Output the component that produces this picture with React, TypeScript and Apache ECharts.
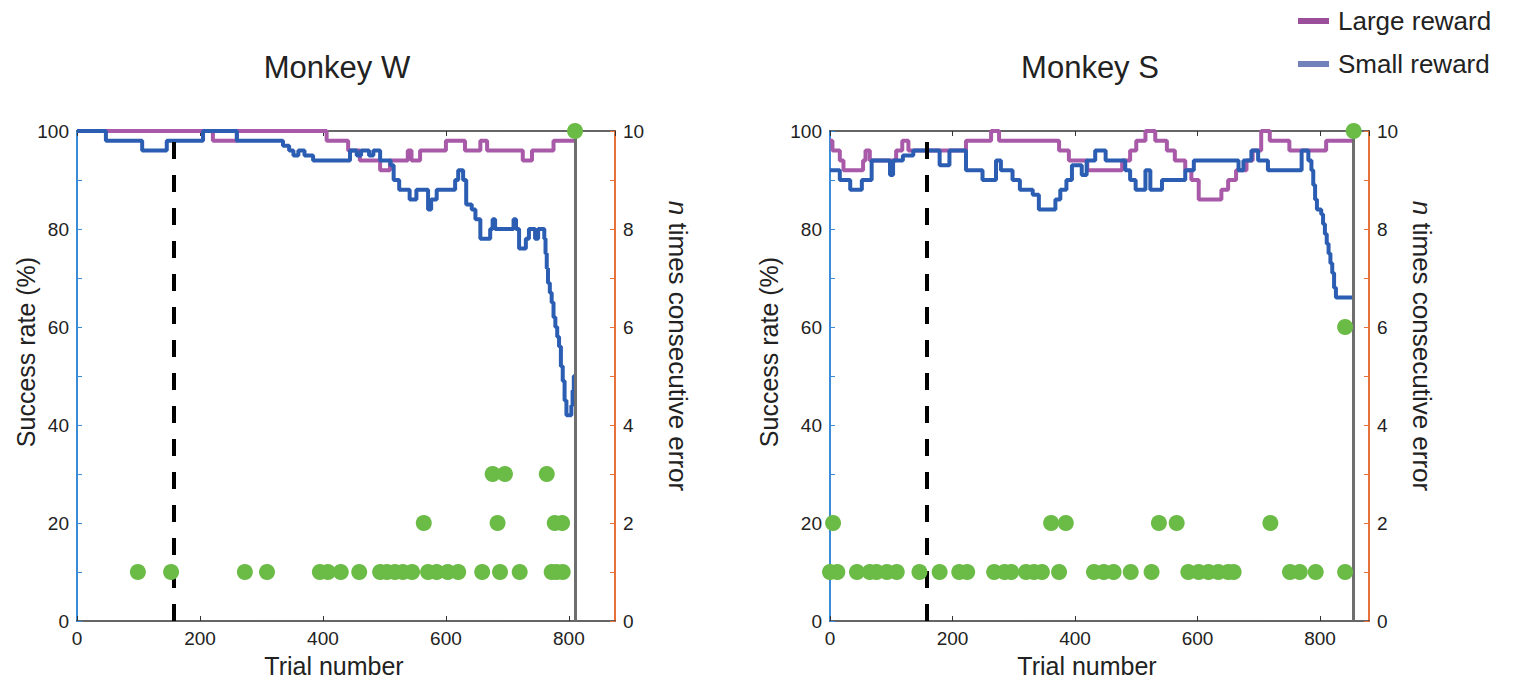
import React, { useEffect, useRef } from "react";
import * as echarts from "echarts";

// ---------- data ----------
const PANEL_TITLES = ["Monkey W", "Monkey S"];
const X_TICKS_INTERVAL = 200;
const X_MAX = [875, 880];
const TASK_SWITCH = [158, 158]; // dashed line (trial number)
const SESSION_END = [810, 855]; // gray line (trial number)

// success rate, Monkey W (trial, %)
const W_LARGE: [number, number][] = [
  [0, 100], [221, 98], [260, 100], [406, 98], [441, 96], [460, 94], [493, 92], [509, 94],
  [538, 96], [544, 94], [558, 96], [600, 98], [631, 96], [656, 98], [667, 96], [725, 94],
  [740, 96], [775, 98], [810, 98],
];
const W_SMALL: [number, number][] = [
  [0, 100], [47, 98], [106, 96], [146, 98], [205, 100], [260, 98], [335, 97], [345, 96],
  [352, 95], [360, 96], [370, 95], [384, 94], [444, 96], [455, 95], [462, 96], [475, 95],
  [482, 96], [493, 94], [510, 93], [515, 90], [524, 88], [541, 86], [552, 88], [571, 84],
  [576, 86], [585, 88], [615, 90], [620, 92], [628, 90], [633, 85], [642, 84], [648, 82],
  [656, 78], [672, 80], [676, 82], [680, 80], [710, 82], [714, 80], [719, 76], [730, 78],
  [735, 80], [745, 78], [750, 80], [760, 78], [762, 75], [764, 72], [766, 69], [769, 67],
  [772, 65], [775, 62], [778, 60], [781, 58], [784, 56], [787, 52], [790, 49], [793, 45],
  [796, 42], [804, 44], [806, 47], [808, 50], [810, 50],
];

// success rate, Monkey S (trial, %)
const S_LARGE: [number, number][] = [
  [0, 98], [4, 96], [16, 94], [22, 92], [54, 94], [58, 96], [65, 94], [108, 96], [118, 98],
  [128, 96], [222, 98], [263, 100], [276, 98], [374, 96], [390, 94], [420, 92], [477, 94],
  [490, 96], [500, 98], [515, 100], [531, 98], [550, 96], [563, 94], [580, 92], [590, 90],
  [602, 86], [639, 88], [650, 90], [663, 92], [680, 94], [690, 96], [704, 100], [718, 98],
  [750, 96], [810, 98], [855, 98],
];
const S_SMALL: [number, number][] = [
  [0, 92], [16, 90], [33, 88], [52, 90], [68, 94], [98, 91], [103, 94], [119, 95], [136, 96],
  [179, 93], [195, 96], [222, 92], [249, 90], [271, 94], [279, 92], [298, 90], [310, 88],
  [331, 87], [341, 84], [368, 86], [376, 88], [386, 90], [395, 93], [411, 91], [419, 94],
  [433, 96], [450, 94], [482, 92], [490, 90], [499, 88], [515, 92], [523, 88], [542, 90],
  [580, 92], [594, 94], [667, 92], [675, 94], [688, 96], [699, 94], [715, 92], [770, 96],
  [781, 94], [786, 92], [789, 89], [792, 86], [795, 84], [802, 83], [805, 81], [808, 79],
  [811, 77], [814, 75], [817, 73], [820, 71], [823, 68], [826, 66], [855, 66],
];

// consecutive errors: trial numbers where n errors occurred
const W_ERR1 = [99, 153, 273, 309, 395, 408, 429, 459, 493, 504, 517, 530, 545, 571, 585, 603, 620, 659, 688, 720, 772, 780, 790];
const W_ERR2 = [564, 684, 777, 789];
const W_ERR3 = [676, 696, 764];
const W_ERR10 = [810];

const S_ERR1 = [0, 12, 44, 65, 76, 93, 109, 146, 179, 211, 224, 268, 285, 296, 320, 333, 346, 374, 431, 447, 463, 491, 525, 585, 602, 618, 634, 650, 659, 751, 767, 793, 841];
const S_ERR2 = [5, 361, 385, 537, 566, 719];
const S_ERR6 = [841];
const S_ERR10 = [855];

const LEGEND_LABELS = ["Large reward", "Small reward"];

// ---------- styles ----------
const FONT = "'Liberation Sans', Arial, Helvetica, sans-serif";
const PURPLE = "#a85aa9";
const BLUE = "#2b5db2";
const PURPLE_LEG = "#9b4f9b";
const BLUE_LEG = "#7281b9";
const GREEN = "#6bbb47";
const LEFT_AXIS = "#3a8bd8";
const RIGHT_AXIS = "#e8703a";
const TEXT = "#222";

const GRIDS = [
  { left: 77, top: 131, width: 538, height: 490 },
  { left: 830, top: 131, width: 539, height: 490 },
];

function errPoints(list: number[], n: number) {
  return list.map((t) => [t, n]);
}

function buildOption() {
  const xAxis: any[] = [];
  const yAxis: any[] = [];
  const series: any[] = [];
  const lines = [
    [W_LARGE, W_SMALL],
    [S_LARGE, S_SMALL],
  ];
  const errs = [
    [...errPoints(W_ERR1, 1), ...errPoints(W_ERR2, 2), ...errPoints(W_ERR3, 3), ...errPoints(W_ERR10, 10)],
    [...errPoints(S_ERR1, 1), ...errPoints(S_ERR2, 2), ...errPoints(S_ERR6, 6), ...errPoints(S_ERR10, 10)],
  ];

  for (let g = 0; g < 2; g++) {
    const baseX = {
      gridIndex: g,
      type: "value",
      min: 0,
      max: X_MAX[g],
      interval: X_TICKS_INTERVAL,
      splitLine: { show: false },
      axisLine: { show: true, onZero: false, lineStyle: { color: "#333", width: 1.5 } },
      axisTick: { show: true, inside: true, length: 5, lineStyle: { color: "#333" } },
    };
    xAxis.push({
      ...baseX,
      position: "bottom",
      axisLabel: { color: TEXT, fontSize: 19, fontFamily: FONT, margin: 8, showMaxLabel: false },
    });
    xAxis.push({ ...baseX, position: "top", axisLabel: { show: false } });

    yAxis.push({
      gridIndex: g,
      type: "value",
      min: 0,
      max: 100,
      interval: 20,
      position: "left",
      splitLine: { show: false },
      axisLine: { show: true, onZero: false, lineStyle: { color: LEFT_AXIS, width: 2 } },
      axisTick: { show: true, inside: true, length: 5, lineStyle: { color: LEFT_AXIS } },
      minorTick: { show: true, splitNumber: 2, length: 5, lineStyle: { color: LEFT_AXIS } },
      axisLabel: { color: TEXT, fontSize: 19, fontFamily: FONT, margin: 8 },
    });
    yAxis.push({
      gridIndex: g,
      type: "value",
      min: 0,
      max: 10,
      interval: 2,
      position: "right",
      splitLine: { show: false },
      axisLine: { show: true, onZero: false, lineStyle: { color: RIGHT_AXIS, width: 2 } },
      axisTick: { show: true, inside: true, length: 5, lineStyle: { color: RIGHT_AXIS } },
      minorTick: { show: true, splitNumber: 2, length: 5, lineStyle: { color: RIGHT_AXIS } },
      axisLabel: { color: TEXT, fontSize: 19, fontFamily: FONT, margin: 8 },
    });

    series.push({
      type: "line",
      xAxisIndex: 2 * g,
      yAxisIndex: 2 * g,
      data: lines[g][0],
      step: "end",
      symbol: "none",
      lineStyle: { color: PURPLE, width: 4 },
      z: 3,
      markLine: {
        silent: true,
        symbol: ["none", "none"],
        label: { show: false },
        data: [
          { xAxis: TASK_SWITCH[g], lineStyle: { color: "#000", width: 4, type: [17, 16] } },
          { xAxis: SESSION_END[g], lineStyle: { color: "#6e6e6e", width: 3, type: "solid" } },
        ],
      },
    });
    series.push({
      type: "line",
      xAxisIndex: 2 * g,
      yAxisIndex: 2 * g,
      data: lines[g][1],
      step: "end",
      symbol: "none",
      lineStyle: { color: BLUE, width: 4 },
      z: 4,
    });
    series.push({
      type: "scatter",
      xAxisIndex: 2 * g,
      yAxisIndex: 2 * g + 1,
      data: errs[g],
      symbol: "circle",
      symbolSize: 16,
      itemStyle: { color: GREEN, opacity: 1 },
      clip: false,
      z: 6,
    });
  }

  const graphic: any[] = [];
  const centers = [346, 1099];
  const yLabelX = [26, 769];
  const rLabelX = [678, 1422];
  for (let g = 0; g < 2; g++) {
    graphic.push({
      type: "text",
      x: centers[g] - 9,
      y: 67,
      style: { text: PANEL_TITLES[g], font: `31px ${FONT}`, fill: TEXT, align: "center", verticalAlign: "middle" },
    });
    graphic.push({
      type: "text",
      x: centers[g] - 12,
      y: 666,
      style: { text: "Trial number", font: `25px ${FONT}`, fill: TEXT, align: "center", verticalAlign: "middle" },
    });
    graphic.push({
      type: "text",
      x: yLabelX[g],
      y: 352,
      rotation: Math.PI / 2,
      style: { text: "Success rate (%)", font: `25px ${FONT}`, fill: TEXT, align: "center", verticalAlign: "middle" },
    });
    graphic.push({
      type: "text",
      x: rLabelX[g],
      y: 346,
      rotation: -Math.PI / 2,
      style: {
        text: "{i|n} times consecutive error",
        font: `26px ${FONT}`,
        fill: TEXT,
        align: "center",
        verticalAlign: "middle",
        rich: { i: { fontStyle: "italic", fontSize: 26, fontFamily: FONT, fill: TEXT } },
      },
    });
  }
  const legColors = [PURPLE_LEG, BLUE_LEG];
  const legY = [21, 64];
  for (let i = 0; i < 2; i++) {
    graphic.push({
      type: "rect",
      shape: { x: 1298, y: legY[i] - 3, width: 31, height: 6 },
      style: { fill: legColors[i] },
    });
    graphic.push({
      type: "text",
      x: 1338,
      y: legY[i],
      style: { text: LEGEND_LABELS[i], font: `26px ${FONT}`, fill: TEXT, align: "left", verticalAlign: "middle" },
    });
  }

  return {
    animation: false,
    backgroundColor: "#fff",
    grid: GRIDS.map((gr) => ({ ...gr, containLabel: false })),
    xAxis,
    yAxis,
    series,
    graphic,
  };
}

export default function App() {
  const ref = useRef<HTMLDivElement>(null);
  useEffect(() => {
    if (!ref.current) return;
    const chart = echarts.init(ref.current, null, { renderer: "svg" });
    chart.setOption(buildOption() as any);
    return () => chart.dispose();
  }, []);
  return (
    <div
      ref={ref}
      style={{ position: "fixed", left: 0, top: 0, width: 1513, height: 686, background: "#fff" }}
    />
  );
}
